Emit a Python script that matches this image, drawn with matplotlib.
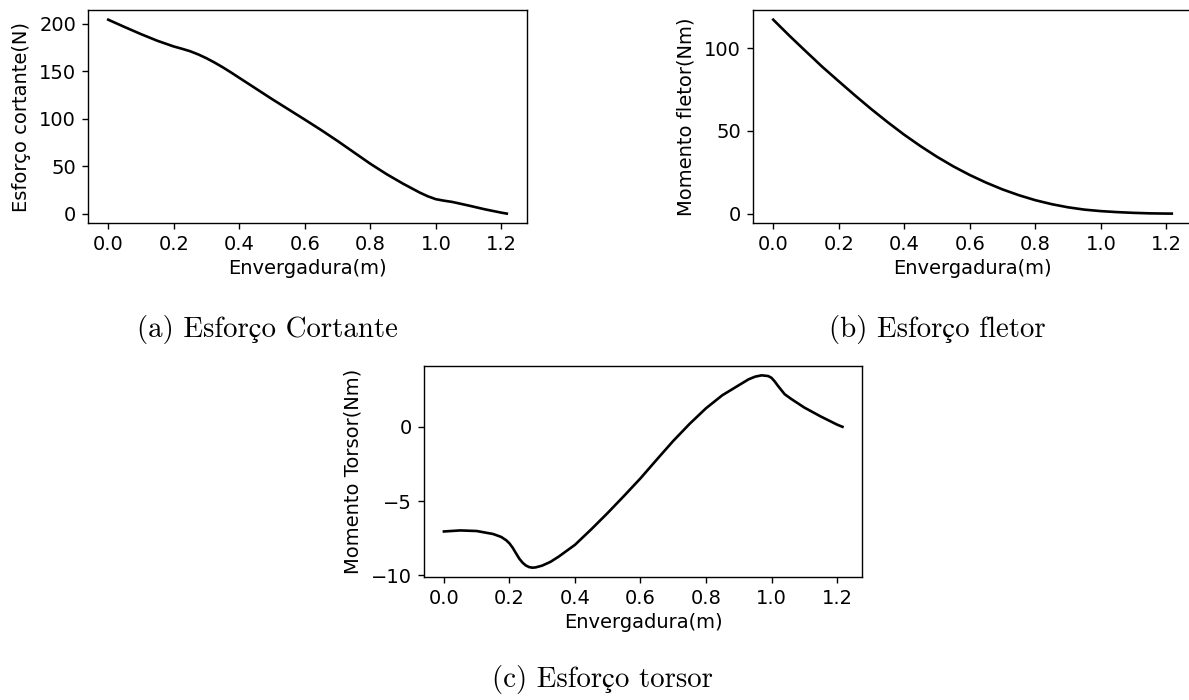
import numpy as np
import matplotlib
matplotlib.use("Agg")
import matplotlib.pyplot as plt

# ---------------------------------------------------------------------------
# Data
# ---------------------------------------------------------------------------
# Esforço cortante (N)
x_cortante = [0.0, 0.05, 0.1, 0.15, 0.2, 0.225, 0.25, 0.275, 0.3, 0.325,
              0.35, 0.375, 0.4, 0.45, 0.5, 0.55, 0.6, 0.65, 0.7, 0.75, 0.8,
              0.85, 0.9, 0.95, 0.975, 1.0, 1.025, 1.05, 1.1, 1.15, 1.2, 1.2166]
cortante = [204.2, 196.5, 189.0, 182.0, 176.0, 173.6, 171.0, 167.6, 163.6,
            159.0, 154.0, 148.6, 143.0, 131.8, 120.6, 109.8, 99.0, 88.0, 76.5,
            64.5, 52.5, 41.5, 31.5, 22.3, 18.3, 15.2, 13.6, 12.3, 8.5, 4.5,
            1.0, 0.0]

# Momento fletor (Nm)
x_fletor = [0.0, 0.05, 0.1, 0.15, 0.2, 0.25, 0.3, 0.35, 0.4, 0.45, 0.5, 0.55,
            0.6, 0.65, 0.7, 0.75, 0.8, 0.85, 0.9, 0.95, 1.0, 1.05, 1.1, 1.15,
            1.2, 1.2166]
fletor = [117.1, 107.3, 97.9, 88.6, 79.9, 71.3, 63.0, 55.1, 47.6, 40.7, 34.3,
          28.5, 23.3, 18.7, 14.6, 11.1, 8.1, 5.7, 3.8, 2.4, 1.5, 0.9, 0.45,
          0.15, 0.02, 0.0]

# Momento torsor (Nm)
x_torsor = [0.0, 0.05, 0.1, 0.15, 0.175, 0.19, 0.2, 0.21, 0.22, 0.23, 0.24,
            0.25, 0.26, 0.27, 0.28, 0.3, 0.325, 0.35, 0.4, 0.45, 0.5, 0.55,
            0.6, 0.65, 0.7, 0.75, 0.8, 0.85, 0.9, 0.93, 0.95, 0.97, 0.99, 1.0,
            1.01, 1.02, 1.04, 1.06, 1.1, 1.15, 1.2, 1.2166]
torsor = [-7.05, -6.98, -7.02, -7.22, -7.42, -7.64, -7.85, -8.15, -8.52,
          -8.88, -9.15, -9.34, -9.45, -9.49, -9.47, -9.35, -9.1, -8.75, -7.95,
          -6.9, -5.8, -4.65, -3.47, -2.2, -0.95, 0.2, 1.25, 2.13, 2.8, 3.2,
          3.38, 3.47, 3.42, 3.3, 3.05, 2.75, 2.2, 1.88, 1.3, 0.7, 0.15, 0.0]

x_label = "Envergadura(m)"
y_labels = ["Esforço cortante(N)", "Momento fletor(Nm)", "Momento Torsor(Nm)"]
captions = ["(a) Esforço Cortante", "(b) Esforço fletor", "(c) Esforço torsor"]

# ---------------------------------------------------------------------------
# Style
# ---------------------------------------------------------------------------
S = 1.25  # lines / ticks a bit heavier than default
plt.rcParams.update({
    "font.size": 14,
    "axes.linewidth": 0.8 * S,
    "xtick.major.size": 3.5 * S,
    "ytick.major.size": 3.5 * S,
    "xtick.major.width": 0.8 * S,
    "ytick.major.width": 0.8 * S,
    "xtick.major.pad": 3.5 * S,
    "ytick.major.pad": 3.5 * S,
    "lines.linewidth": 1.9,
})

W, H = 1189, 700
fig = plt.figure(figsize=(W / 100, H / 100), dpi=100)


def box(left, top, right, bottom):
    """Pixel box -> figure fraction rect."""
    return [left / W, 1 - bottom / H, (right - left) / W, (bottom - top) / H]


ax_a = fig.add_axes(box(88.3, 10, 526.7, 223.3))
ax_b = fig.add_axes(box(753.3, 10, 1191.7, 223.3))
ax_c = fig.add_axes(box(424, 365.7, 862.4, 577.3))

panels = [
    (ax_a, x_cortante, cortante),
    (ax_b, x_fletor, fletor),
    (ax_c, x_torsor, torsor),
]

for (ax, xs, ys), ylab in zip(panels, y_labels):
    ax.plot(xs, ys, color="black")
    ax.set_xlabel(x_label, labelpad=3)
    ax.set_ylabel(ylab, labelpad=6)
    ax.set_xticks([0.0, 0.2, 0.4, 0.6, 0.8, 1.0, 1.2])

ax_a.set_yticks([0, 50, 100, 150, 200])
ax_b.set_yticks([0, 50, 100])
ax_c.set_yticks([-10, -5, 0])

# subfigure captions (LaTeX-like serif)
cap_font = dict(family=["cmr10", "STIXGeneral"], fontsize=20.8,
                ha="center", va="center")
fig.text(267.5 / W, 1 - 329 / H, captions[0], **cap_font)
fig.text(937 / W, 1 - 329 / H, captions[1], **cap_font)
fig.text(602.5 / W, 1 - 680 / H, captions[2], **cap_font)

fig.savefig("out.png", dpi=100, facecolor="white")
